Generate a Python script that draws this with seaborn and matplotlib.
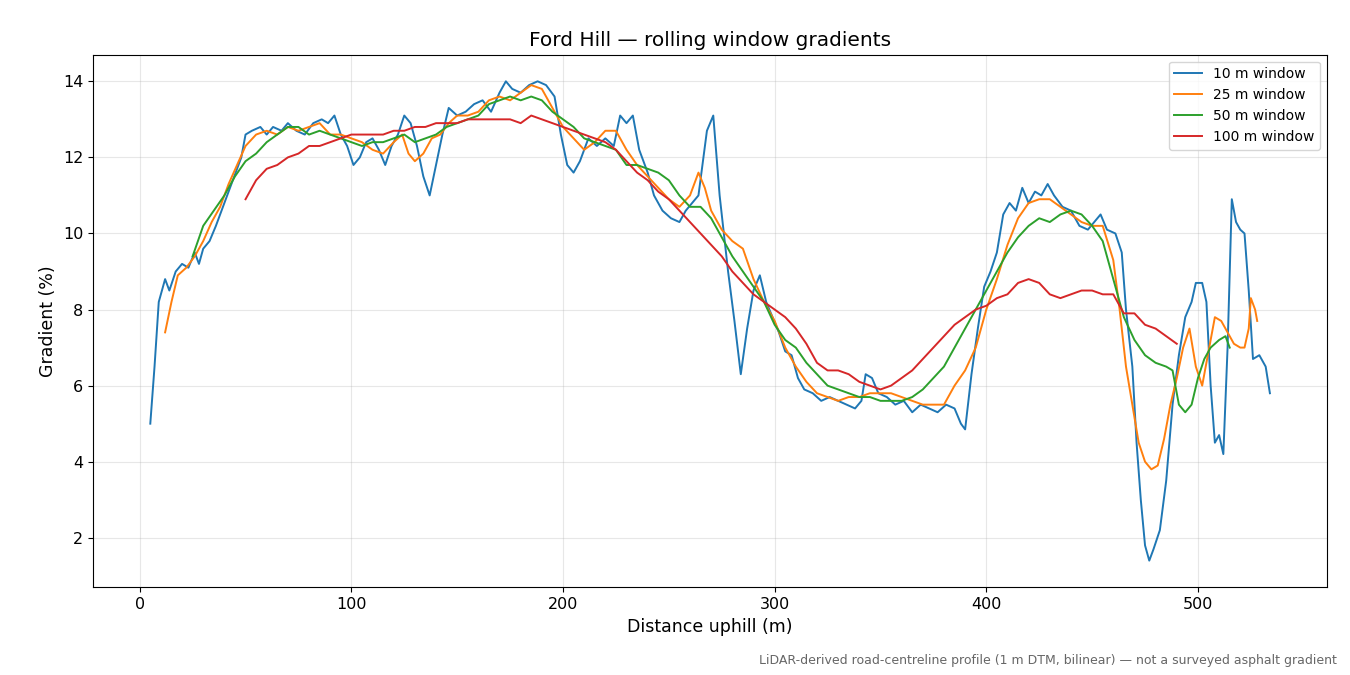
import numpy as np
import pandas as pd
import matplotlib
matplotlib.use("Agg")
import matplotlib.pyplot as plt
import seaborn as sns

# ---- data ----
d10 = [5, 7, 9, 12, 14, 17, 20, 23, 26, 28, 30, 33, 36, 40, 44, 48, 50, 53, 57, 60, 63, 67, 70, 74, 78, 82, 86, 89, 92, 95, 98,
       101, 104, 107, 110, 113, 116, 119, 122, 125, 128, 131, 134, 137, 140, 143, 146, 150, 154, 158, 162, 166, 170, 173, 176,
       180, 184, 188, 192, 196, 199, 202, 205, 208, 212, 216, 220, 224, 227, 230, 233, 236, 240, 243, 247, 251, 255, 258, 261,
       264, 268, 271, 274, 278, 281, 284, 287, 290, 293, 296, 299, 302, 305, 308, 311, 314, 318, 322, 326, 330, 334, 338, 341,
       343, 346, 349, 353, 357, 361, 365, 369, 373, 377, 381, 385, 388, 390, 393, 396, 399, 402, 405, 408, 411, 414, 417, 420,
       423, 426, 429, 432, 436, 440, 444, 448, 451, 454, 457, 461, 464, 466, 469, 471, 473, 475, 477, 479, 482, 485, 488, 491,
       494, 497, 499, 502, 504, 506, 508, 510, 512, 514, 516, 518, 520, 522, 524, 526, 529, 532, 534]
g10 = [5.0, 6.5, 8.2, 8.8, 8.5, 9.0, 9.2, 9.1, 9.5, 9.2, 9.6, 9.8, 10.2, 10.8, 11.4, 12.0, 12.6, 12.7, 12.8, 12.6, 12.8, 12.7,
       12.9, 12.7, 12.6, 12.9, 13.0, 12.9, 13.1, 12.6, 12.3, 11.8, 12.0, 12.4, 12.5, 12.2, 11.8, 12.3, 12.6, 13.1, 12.9, 12.3,
       11.5, 11.0, 11.8, 12.6, 13.3, 13.1, 13.2, 13.4, 13.5, 13.2, 13.7, 14.0, 13.8, 13.7, 13.9, 14.0, 13.9, 13.6, 12.6, 11.8,
       11.6, 11.9, 12.5, 12.3, 12.5, 12.3, 13.1, 12.9, 13.1, 12.2, 11.6, 11.0, 10.6, 10.4, 10.3, 10.6, 10.8, 11.0, 12.7, 13.1,
       11.0, 9.0, 7.7, 6.3, 7.5, 8.5, 8.9, 8.2, 7.8, 7.4, 6.9, 6.8, 6.2, 5.9, 5.8, 5.6, 5.7, 5.6, 5.5, 5.4, 5.6, 6.3, 6.2, 5.8,
       5.7, 5.5, 5.6, 5.3, 5.5, 5.4, 5.3, 5.5, 5.4, 5.0, 4.85, 6.3, 7.5, 8.6, 9.0, 9.5, 10.5, 10.8, 10.6, 11.2, 10.8, 11.1,
       11.0, 11.3, 11.0, 10.7, 10.6, 10.2, 10.1, 10.3, 10.5, 10.1, 10.0, 9.5, 8.0, 6.5, 4.5, 3.0, 1.8, 1.4, 1.7, 2.2, 3.5, 5.5,
       6.8, 7.8, 8.2, 8.7, 8.7, 8.2, 6.0, 4.5, 4.7, 4.2, 7.0, 10.9, 10.3, 10.1, 10.0, 8.5, 6.7, 6.8, 6.5, 5.8]

d25 = [12, 15, 18, 22, 26, 30, 34, 38, 42, 46, 50, 55, 60, 65, 70, 75, 80, 85, 90, 95, 100, 105, 110, 115, 120, 124, 127, 130,
       134, 138, 142, 146, 150, 155, 160, 165, 170, 175, 180, 185, 190, 195, 200, 205, 210, 215, 220, 225, 230, 235, 240, 245,
       250, 255, 260, 264, 267, 270, 275, 280, 285, 290, 295, 300, 305, 310, 315, 320, 325, 330, 335, 340, 345, 350, 355, 360,
       365, 370, 375, 380, 385, 390, 395, 400, 405, 410, 415, 420, 425, 430, 435, 440, 445, 450, 455, 460, 463, 466, 469, 472,
       475, 478, 481, 484, 487, 490, 493, 496, 499, 502, 504, 506, 508, 511, 514, 517, 520, 522, 524, 525, 527, 528]
g25 = [7.4, 8.2, 8.9, 9.1, 9.4, 9.8, 10.3, 10.7, 11.3, 11.8, 12.3, 12.6, 12.7, 12.6, 12.8, 12.7, 12.8, 12.9, 12.6, 12.6, 12.5,
       12.4, 12.2, 12.1, 12.4, 12.6, 12.1, 11.9, 12.1, 12.5, 12.6, 12.9, 13.1, 13.1, 13.2, 13.5, 13.6, 13.5, 13.7, 13.9, 13.8,
       13.3, 12.8, 12.5, 12.2, 12.4, 12.7, 12.7, 12.2, 11.8, 11.5, 11.2, 10.9, 10.7, 11.0, 11.6, 11.2, 10.6, 10.1, 9.8, 9.6,
       8.8, 8.2, 7.7, 7.0, 6.5, 6.1, 5.8, 5.7, 5.6, 5.7, 5.7, 5.8, 5.8, 5.8, 5.7, 5.6, 5.5, 5.5, 5.5, 6.0, 6.4, 7.0, 8.0, 8.8,
       9.7, 10.4, 10.8, 10.9, 10.9, 10.7, 10.5, 10.3, 10.2, 10.2, 9.3, 8.0, 6.5, 5.5, 4.5, 4.0, 3.8, 3.9, 4.6, 5.5, 6.2, 7.0,
       7.5, 6.5, 6.0, 6.6, 7.2, 7.8, 7.7, 7.4, 7.1, 7.0, 7.0, 7.5, 8.3, 8.0, 7.7]

d50 = [d for d in range(25, 490, 5) if d != 485] + [485, 488, 491, 494, 497, 500, 503, 506, 510, 513, 515]
g50 = [9.4, 10.2, 10.6, 11.0, 11.5, 11.9, 12.1, 12.4, 12.6, 12.8, 12.8, 12.6, 12.7, 12.6, 12.5, 12.4, 12.3, 12.4, 12.4, 12.5,
       12.6, 12.4, 12.5, 12.6, 12.8, 12.9, 13.0, 13.1, 13.4, 13.5, 13.6, 13.5, 13.6, 13.5, 13.2, 13.0, 12.8, 12.5, 12.4, 12.3,
       12.2, 11.8, 11.8, 11.7, 11.6, 11.4, 11.0, 10.7, 10.7, 10.4, 9.9, 9.4, 9.0, 8.6, 8.2, 7.6, 7.2, 7.0, 6.6, 6.3, 6.0, 5.9,
       5.8, 5.7, 5.7, 5.6, 5.6, 5.6, 5.7, 5.9, 6.2, 6.5, 7.0, 7.5, 8.0, 8.5, 9.0, 9.5, 9.9, 10.2, 10.4, 10.3, 10.5, 10.6, 10.5,
       10.2, 9.8, 8.8, 7.8, 7.2, 6.8, 6.6,
       6.5, 6.4, 5.5, 5.3, 5.5, 6.2, 6.7, 7.0, 7.2, 7.3, 7.0]

d100 = list(range(50, 495, 5))
g100 = [10.9, 11.4, 11.7, 11.8, 12.0, 12.1, 12.3, 12.3, 12.4, 12.5, 12.6, 12.6, 12.6, 12.6, 12.7, 12.7, 12.8, 12.8, 12.9, 12.9,
        12.9, 13.0, 13.0, 13.0, 13.0, 13.0, 12.9, 13.1, 13.0, 12.9, 12.8, 12.7, 12.6, 12.5, 12.4, 12.2, 11.9, 11.6, 11.4, 11.1,
        10.9, 10.6, 10.3, 10.0, 9.7, 9.4, 9.0, 8.7, 8.4, 8.2, 8.0, 7.8, 7.5, 7.1, 6.6, 6.4, 6.4, 6.3, 6.1, 6.0, 5.9, 6.0, 6.2,
        6.4, 6.7, 7.0, 7.3, 7.6, 7.8, 8.0, 8.1, 8.3, 8.4, 8.7, 8.8, 8.7, 8.4, 8.3, 8.4, 8.5, 8.5, 8.4, 8.4, 7.9, 7.9, 7.6, 7.5,
        7.3, 7.1]

series = [("10 m window", d10, g10), ("25 m window", d25, g25),
          ("50 m window", d50, g50), ("100 m window", d100, g100)]

frames = []
for name, d, g in series:
    n = min(len(d), len(g))
    frames.append(pd.DataFrame({"dist": d[:n], "grad": g[:n], "window": name}))
df = pd.concat(frames, ignore_index=True)

fig, ax = plt.subplots(figsize=(13.5, 6.75), dpi=100)
palette = ["#1f77b4", "#ff7f0e", "#2ca02c", "#d62728"]
sns.lineplot(data=df, x="dist", y="grad", hue="window", palette=palette,
             estimator=None, sort=True, linewidth=1.4, ax=ax)

ax.set_xlim(-22, 561)
ax.set_ylim(0.7, 14.7)
ax.set_xticks([0, 100, 200, 300, 400, 500])
ax.set_yticks([2, 4, 6, 8, 10, 12, 14])
ax.grid(alpha=0.3)
ax.set_title("Ford Hill — rolling window gradients", fontsize=14.5)
ax.set_xlabel("Distance uphill (m)", fontsize=12.5)
ax.set_ylabel("Gradient (%)", fontsize=12.5)
ax.tick_params(labelsize=11.5)
ax.legend(title=None, loc="upper right", fontsize=10)

fig.text(0.99, 0.012, "LiDAR-derived road-centreline profile (1 m DTM, bilinear) — not a surveyed asphalt gradient",
         ha="right", va="bottom", fontsize=9, color="#666666")
fig.subplots_adjust(left=0.069, right=0.983, top=0.919, bottom=0.13)
fig.savefig("out.png")
